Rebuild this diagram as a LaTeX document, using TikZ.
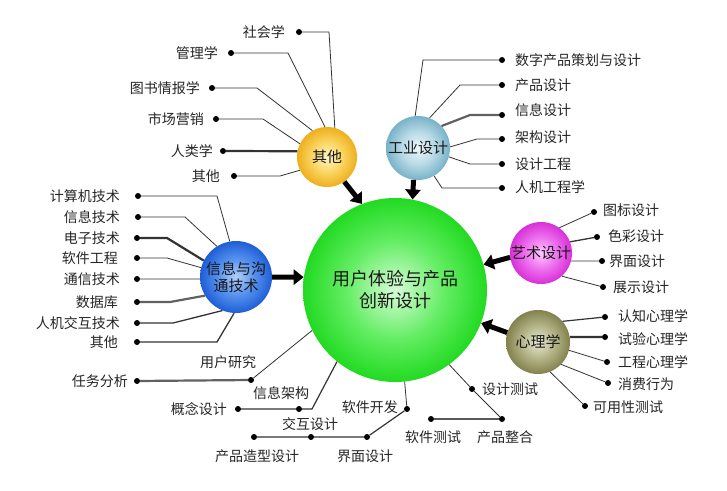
\documentclass[tikz,border=0pt]{standalone}
\usepackage{fontspec}
\newfontfamily\cjk{Noto Sans CJK SC}
\usetikzlibrary{arrows.meta}
\definecolor{gIn}{HTML}{D8FCD8}\definecolor{gMid}{HTML}{66EE66}\definecolor{gOut}{HTML}{22DA22}
\definecolor{yIn}{HTML}{FFF6C8}\definecolor{yMid}{HTML}{FAD560}\definecolor{yOut}{HTML}{EEAF1E}
\definecolor{iIn}{HTML}{EEF7FA}\definecolor{iMid}{HTML}{B8DAE6}\definecolor{iOut}{HTML}{78B2C8}
\definecolor{bIn}{HTML}{B0D0FA}\definecolor{bMid}{HTML}{5590EE}\definecolor{bOut}{HTML}{1E5ED6}
\definecolor{pIn}{HTML}{FFC8FF}\definecolor{pMid}{HTML}{EE70EE}\definecolor{pOut}{HTML}{D830D8}
\definecolor{oIn}{HTML}{EAEAD4}\definecolor{oMid}{HTML}{B4B488}\definecolor{oOut}{HTML}{82824E}
\pgfdeclareradialshading{greenball}{\pgfpoint{0bp}{0bp}}{color(0bp)=(gIn); color(13bp)=(gMid); color(25bp)=(gOut); color(50bp)=(gOut)}
\pgfdeclareradialshading{yellowball}{\pgfpoint{0bp}{0bp}}{color(0bp)=(yIn); color(13bp)=(yMid); color(25bp)=(yOut); color(50bp)=(yOut)}
\pgfdeclareradialshading{iceball}{\pgfpoint{0bp}{0bp}}{color(0bp)=(iIn); color(13bp)=(iMid); color(25bp)=(iOut); color(50bp)=(iOut)}
\pgfdeclareradialshading{blueball}{\pgfpoint{0bp}{0bp}}{color(0bp)=(bIn); color(13bp)=(bMid); color(25bp)=(bOut); color(50bp)=(bOut)}
\pgfdeclareradialshading{pinkball}{\pgfpoint{0bp}{0bp}}{color(0bp)=(pIn); color(13bp)=(pMid); color(25bp)=(pOut); color(50bp)=(pOut)}
\pgfdeclareradialshading{oliveball}{\pgfpoint{0bp}{0bp}}{color(0bp)=(oIn); color(13bp)=(oMid); color(25bp)=(oOut); color(50bp)=(oOut)}
\begin{document}
\begin{tikzpicture}[x=1pt,y=-1pt,
  dotn/.style={circle, fill=black, inner sep=0pt, minimum size=6pt},
  lbl/.style={font=\cjk\fontsize{14}{16}\selectfont, inner sep=0pt, text=black!85},
  hub/.style={circle, inner sep=0pt, font=\cjk\fontsize{15}{17}\selectfont, align=center, text=black!90},
  ln/.style={line width=0.8pt, black!80},
  lnt/.style={line width=2.2pt, black!62},
  bigarrow/.style={line width=5pt, black, -{Triangle[length=10pt,width=15pt]}}]
\useasboundingbox (0,0) rectangle (727,490);
\fill[white] (0,0) rectangle (727,490);

% hubs
\node[hub, shading=greenball, minimum size=184pt, font=\cjk\fontsize{18}{22}\selectfont] (C) at (395,290) {用户体验与产品\\创新设计};
\node[hub, shading=yellowball, minimum size=60pt] (Y) at (327,157) {其他};
\node[hub, shading=iceball, minimum size=64pt] (I) at (418,148) {工业设计};
\node[hub, shading=blueball, minimum size=72pt] (B) at (236,277) {信息与沟\\通技术};
\node[hub, shading=pinkball, minimum size=62pt] (P) at (541,253) {艺术设计};
\node[hub, shading=oliveball, minimum size=64pt] (O) at (538,342) {心理学};

% arrows
\draw[bigarrow] (Y.-55) -- (C.111);
\draw[bigarrow] (I.262) -- (C.79);
\draw[bigarrow] (B.0) -- (C.172);
\draw[bigarrow] (P.188) -- (C.16);
\draw[bigarrow] (O.163) -- (C.-21);

% Y leaves
\node[dotn] (y1) at (299,32) {};  \node[lbl,anchor=east] (y1l) at (285,32) {社会学};
\node[dotn] (y2) at (231,53) {};  \node[lbl,anchor=east] (y2l) at (218,53) {管理学};
\node[dotn] (y3) at (212,88) {};  \node[lbl,anchor=east] (y3l) at (200,88) {图书情报学};
\node[dotn] (y4) at (216,119) {}; \node[lbl,anchor=east] (y4l) at (204,119) {市场营销};
\node[dotn] (y5) at (223,151) {}; \node[lbl,anchor=east] (y5l) at (213,151) {人类学};
\node[dotn] (y6) at (234,176) {}; \node[lbl,anchor=east] (y6l) at (220,176) {其他};
\draw[ln] (y1) -- (329,32) -- (Y.75);
\draw[ln] (y2) -- (288,53) -- (Y.94);
\draw[ln] (y3) -- (257,88) -- (Y.119);
\draw[ln] (y4) -- (263,119) -- (Y.154);
\draw[lnt,black!80] (y5) -- (Y.169);
\draw[ln] (y6) -- (280,176) -- (Y.206);

% I leaves
\node[dotn] (i1) at (502,60) {};  \node[lbl,anchor=west] (i1l) at (515,60) {数字产品策划与设计};
\node[dotn] (i2) at (502,85) {};  \node[lbl,anchor=west] (i2l) at (515,85) {产品设计};
\node[dotn] (i3) at (502,115) {}; \node[lbl,anchor=west] (i3l) at (515,110) {信息设计};
\node[dotn] (i4) at (502,139) {}; \node[lbl,anchor=west] (i4l) at (515,137) {架构设计};
\node[dotn] (i5) at (502,164) {}; \node[lbl,anchor=west] (i5l) at (515,164) {设计工程};
\node[dotn] (i6) at (502,188) {}; \node[lbl,anchor=west] (i6l) at (515,187) {人机工程学};
\draw[ln] (i1) -- (423,60) -- (I.95);
\draw[ln] (i2) -- (460,85) -- (I.69);
\draw[lnt] (i3) -- (470,115) -- (I.43);
\draw[ln] (i4) -- (477,139) -- (I.2);
\draw[ln] (i5) -- (470,164) -- (I.344);
\draw[ln] (i6) -- (442,188) -- (I.300);

% B leaves
\node[dotn] (b1) at (138,196) {}; \node[lbl,anchor=east] (b1l) at (120,196) {计算机技术};
\node[dotn] (b2) at (138,217) {}; \node[lbl,anchor=east] (b2l) at (120,217) {信息技术};
\node[dotn] (b3) at (137,238) {}; \node[lbl,anchor=east] (b3l) at (120,238) {电子技术};
\node[dotn] (b4) at (137,258) {}; \node[lbl,anchor=east] (b4l) at (118,258) {软件工程};
\node[dotn] (b5) at (137,279) {}; \node[lbl,anchor=east] (b5l) at (120,279) {通信技术};
\node[dotn] (b6) at (137,302) {}; \node[lbl,anchor=east] (b6l) at (118,302) {数据库};
\node[dotn] (b7) at (137,323) {}; \node[lbl,anchor=east] (b7l) at (120,323) {人机交互技术};
\node[dotn] (b8) at (137,342) {}; \node[lbl,anchor=east] (b8l) at (118,342) {其他};
\draw[ln] (b1) -- (217,196) -- (B.100);
\draw[ln] (b2) -- (185,217) -- (B.122);
\draw[lnt,black!80] (b3) -- (167,238) -- (B.153);
\draw[ln] (b4) -- (167,258) -- (B.165);
\draw[ln] (b5) -- (B.183);
\draw[lnt] (b6) -- (170,302) -- (B.211);
\draw[ln,line width=1.3pt] (b7) -- (173,323) -- (B.248);
\draw[ln,line width=1.3pt] (b8) -- (217,342) -- (B.267);

% P leaves
\node[dotn] (p1) at (594,212) {}; \node[lbl,anchor=west] (p1l) at (603,210) {图标设计};
\node[dotn] (p2) at (597,237) {}; \node[lbl,anchor=west] (p2l) at (608,236) {色彩设计};
\node[dotn] (p3) at (602,261) {}; \node[lbl,anchor=west] (p3l) at (609,261) {界面设计};
\node[dotn] (p4) at (603,287) {}; \node[lbl,anchor=west] (p4l) at (613,287) {展示设计};
\draw[ln] (p1) -- (P.54);
\draw[ln,line width=1.3pt] (p2) -- (P.21);
\draw[ln] (p3) -- (P.345);
\draw[ln] (p4) -- (P.312);

% O leaves
\node[dotn] (o1) at (605,317) {}; \node[lbl,anchor=west] (o1l) at (618,316) {认知心理学};
\node[dotn] (o2) at (605,337) {}; \node[lbl,anchor=west] (o2l) at (618,339) {试验心理学};
\node[dotn] (o3) at (607,362) {}; \node[lbl,anchor=west] (o3l) at (618,362) {工程心理学};
\node[dotn] (o4) at (608,383) {}; \node[lbl,anchor=west] (o4l) at (618,384) {消费行为};
\node[dotn] (o5) at (585,406) {}; \node[lbl,anchor=west] (o5l) at (593,407) {可用性测试};
\draw[ln,line width=1.2pt] (o1) -- (O.40);
\draw[lnt,black!80] (o2) -- (O.9);
\draw[ln] (o3) -- (O.345);
\draw[ln] (o4) -- (O.316);
\draw[ln] (o5) -- (O.292);

% bottom leaves
\node[dotn] (c1) at (137,381) {};  \node[lbl,anchor=east] (c1l) at (128,381) {任务分析};
\node[dotn] (c2) at (251,380) {};  \node[lbl] (c2l) at (228,362) {用户研究};
\node[dotn] (c3) at (238,409) {};  \node[lbl,anchor=east] (c3l) at (227,409) {概念设计};
\node[dotn] (c4) at (299,409) {};  \node[lbl] (c4l) at (281,393) {信息架构};
\node[dotn] (c5) at (407,409) {};  \node[lbl,anchor=east] (c5l) at (398,407) {软件开发};
\node[dotn] (c6) at (254,437) {};  \node[lbl] (c6l) at (257,456) {产品造型设计};
\node[dotn] (c7) at (311,437) {};  \node[lbl] (c7l) at (310,424) {交互设计};
\node[dotn] (c8) at (367,437) {};  \node[lbl] (c8l) at (365,456) {界面设计};
\node[dotn] (c9) at (472,389) {};  \node[lbl,anchor=west] (c9l) at (482,389) {设计测试};
\node[dotn] (c10) at (502,419) {}; \node[lbl] (c10l) at (505,437) {产品整合};
\node[dotn] (c11) at (431,419) {}; \node[lbl] (c11l) at (433,437) {软件测试};
\draw[lnt] (c1) -- (c2);
\draw[ln] (c2) -- (C.206);
\draw[ln,line width=1.2pt] (c3) -- (c4) -- (312,409) -- (C.231);
\draw[ln] (c5) -- (C.276);
\draw[ln,line width=1.2pt] (c6) -- (c7) -- (c8) -- (c5);
\draw[ln] (C.306) -- (c9) -- (c10);
\draw[ln,line width=1.4pt,black!65] (c11) -- (c10);
\end{tikzpicture}
\end{document}
